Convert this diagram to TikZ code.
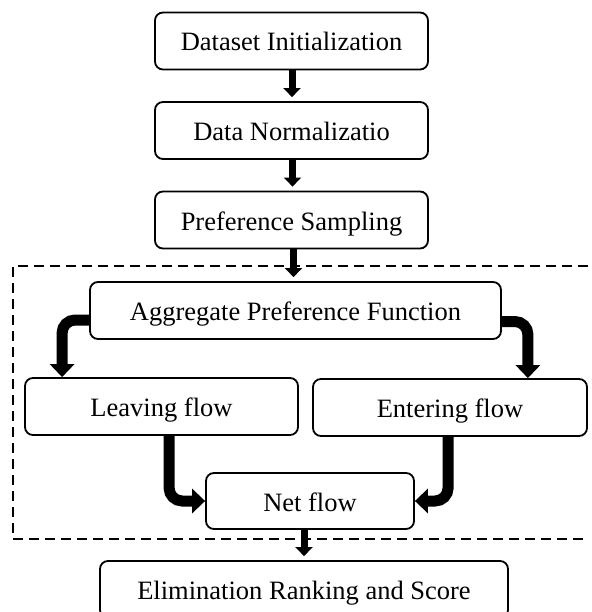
\documentclass[tikz,border=0pt]{standalone}
\usepackage{fontspec}
\setmainfont{Liberation Serif}
\usetikzlibrary{arrows.meta}
\begin{document}
\begin{tikzpicture}[x=1pt,y=-1pt,
  box/.style={draw=black,line width=1.8pt,rounded corners=8pt,inner xsep=0pt,inner ysep=0pt,
    text height=20pt,text depth=0pt,minimum height=57pt,
    font=\fontsize{26.5}{30}\selectfont},
  thinarrow/.style={line width=7pt,-{Triangle[width=17pt,length=9pt]},shorten >=4pt},
  thickarrow/.style={line width=11pt,rounded corners=13pt,-{Triangle[width=24pt,length=13pt]}},
  dashbox/.style={line width=2.6pt,dash pattern=on 10pt off 6pt}]
\useasboundingbox (0,0) rectangle (591,612);
\clip (0,0) rectangle (591,612);
\node[box,minimum width=273pt] (d1) at (291.5,41) {Dataset Initialization};
\node[box,minimum width=273pt] (d2) at (291.5,130.5) {Data Normalizatio};
\node[box,minimum width=273pt] (d3) at (291.5,220) {Preference Sampling};
\node[box,minimum width=411pt] (agg) at (295.5,310.5) {Aggregate Preference Function};
\node[box,minimum width=273pt] (leave) at (161.5,406.5) {Leaving flow};
\node[box,minimum width=274pt] (enter) at (450,407.5) {Entering flow};
\node[box,minimum width=208pt,minimum height=56pt] (net) at (310,501) {Net flow};
\node[box,minimum width=408pt] (elim) at (304,589.5) {Elimination Ranking and Score};
\coordinate (dbr) at (588,266);
\coordinate (dtl) at (13,266);
\coordinate (dbl) at (13,539);
\coordinate (dbb) at (588,539);
\draw[dashbox] (dbr) -- (dtl) -- (dbl) -- (dbb);
\draw[thinarrow] ([xshift=0.5pt]d1.south) -- ([xshift=0.5pt]d2.north);
\draw[thinarrow] ([xshift=1pt]d2.south) -- ([xshift=1pt]d3.north);
\draw[thinarrow] ([xshift=2pt]d3.south) -- ([xshift=2pt]d3.south |- agg.north);
\draw[thinarrow] (elim.north |- net.south) -- (elim.north);
\draw[thickarrow] ([yshift=-9.5pt]agg.west) -| ([xshift=38pt]leave.north west);
\draw[thickarrow] ([yshift=-11pt]agg.east) -| ([xshift=-60pt]enter.north east);
\draw[thickarrow] ([xshift=145pt]leave.south west) |- (net.west);
\draw[thickarrow] ([xshift=136pt]enter.south west) |- (net.east);
\end{tikzpicture}
\end{document}
